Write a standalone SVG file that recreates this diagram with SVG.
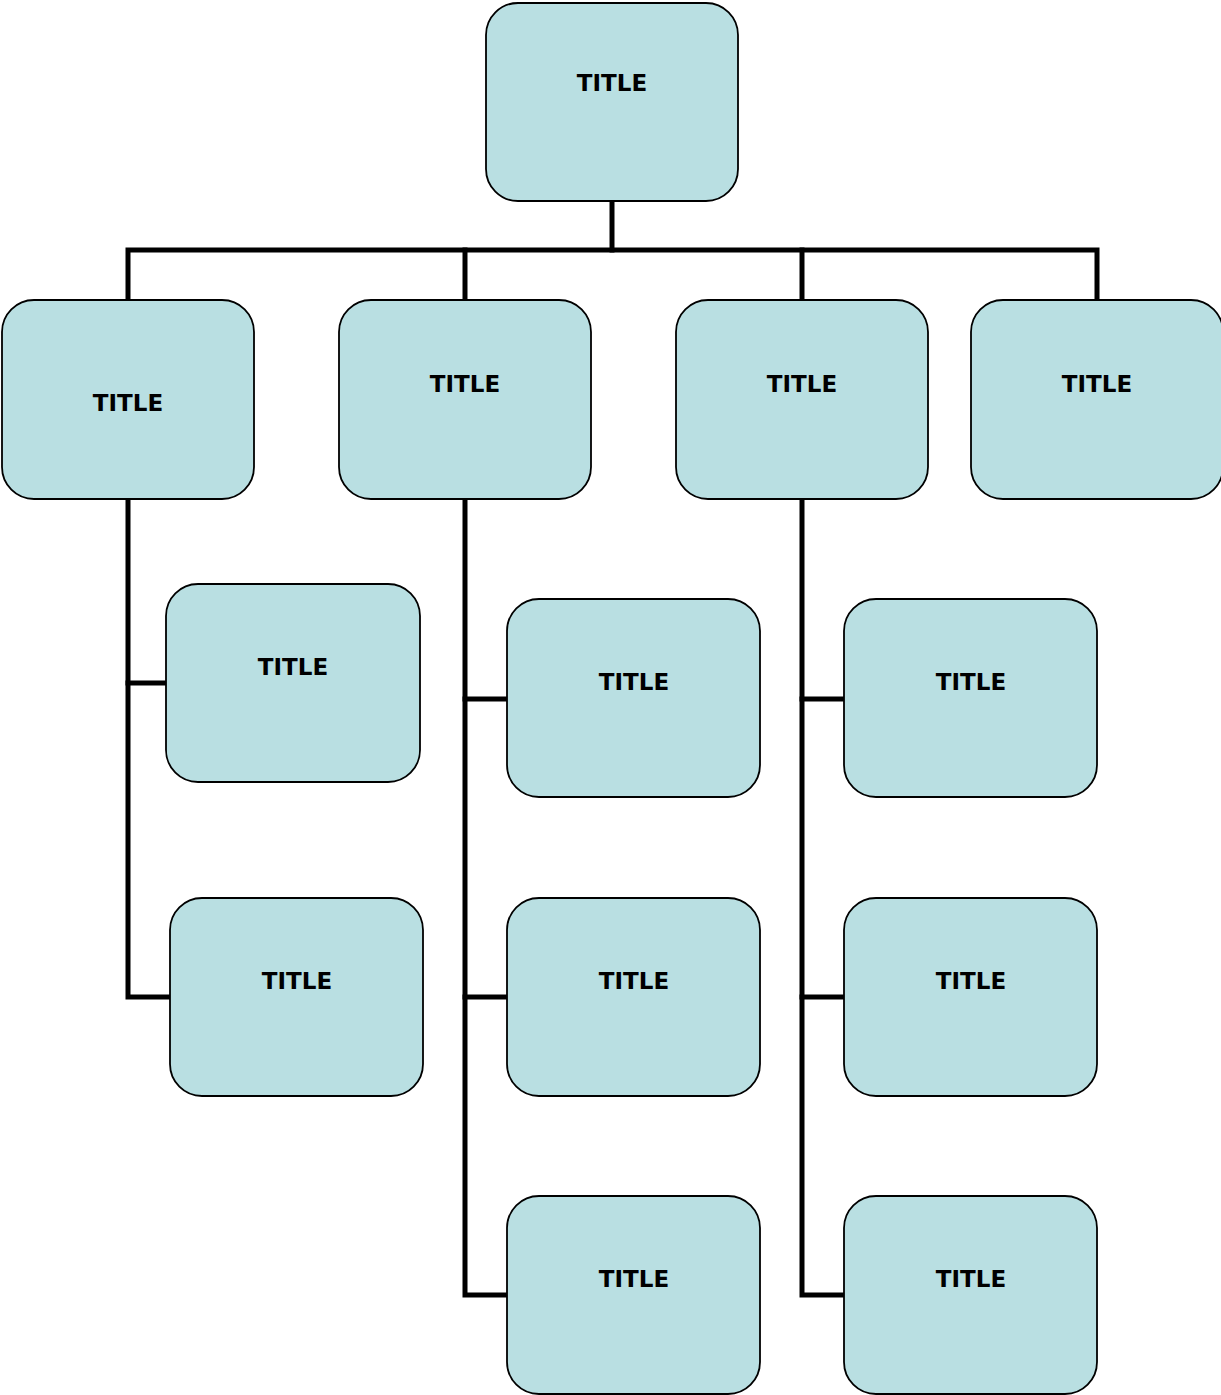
<svg xmlns="http://www.w3.org/2000/svg" width="1221" height="1395" viewBox="0 0 1221 1395">
<style>
.n{fill:#b9dfe2;stroke:#000;stroke-width:1.8}
.t{font-family:"DejaVu Sans",sans-serif;font-weight:bold;font-size:23px;fill:#000;text-anchor:middle}
.c{fill:none;stroke:#000;stroke-width:5;stroke-linecap:square;stroke-linejoin:miter}
</style>
<rect width="1221" height="1395" fill="#fff"/>
<g id="connectors">
<path class="c" d="M612,201 V250"/>
<path class="c" d="M128,300 V250 H1097 V300"/>
<path class="c" d="M465,250 V300"/>
<path class="c" d="M802,250 V300"/>
<path class="c" d="M128,499 V997 H170"/>
<path class="c" d="M128,683 H166"/>
<path class="c" d="M465,499 V1295 H507"/>
<path class="c" d="M465,699 H507"/>
<path class="c" d="M465,997 H507"/>
<path class="c" d="M802,499 V1295 H844"/>
<path class="c" d="M802,699 H844"/>
<path class="c" d="M802,997 H844"/>
</g>
<g id="root"><rect class="n" x="486" y="3" width="252" height="198" rx="32"/><text class="t" x="612" y="91">TITLE</text></g>
<g id="n1"><rect class="n" x="2" y="300" width="252" height="199" rx="32"/><text class="t" x="128" y="411">TITLE</text></g>
<g id="n2"><rect class="n" x="339" y="300" width="252" height="199" rx="32"/><text class="t" x="465" y="392">TITLE</text></g>
<g id="n3"><rect class="n" x="676" y="300" width="252" height="199" rx="32"/><text class="t" x="802" y="392">TITLE</text></g>
<g id="n4"><rect class="n" x="971" y="300" width="252" height="199" rx="32"/><text class="t" x="1097" y="392">TITLE</text></g>
<g id="a1"><rect class="n" x="166" y="584" width="254" height="198" rx="32"/><text class="t" x="293" y="675">TITLE</text></g>
<g id="a2"><rect class="n" x="170" y="898" width="253" height="198" rx="32"/><text class="t" x="297" y="989">TITLE</text></g>
<g id="b1"><rect class="n" x="507" y="599" width="253" height="198" rx="32"/><text class="t" x="634" y="690">TITLE</text></g>
<g id="b2"><rect class="n" x="507" y="898" width="253" height="198" rx="32"/><text class="t" x="634" y="989">TITLE</text></g>
<g id="b3"><rect class="n" x="507" y="1196" width="253" height="198" rx="32"/><text class="t" x="634" y="1287">TITLE</text></g>
<g id="c1"><rect class="n" x="844" y="599" width="253" height="198" rx="32"/><text class="t" x="971" y="690">TITLE</text></g>
<g id="c2"><rect class="n" x="844" y="898" width="253" height="198" rx="32"/><text class="t" x="971" y="989">TITLE</text></g>
<g id="c3"><rect class="n" x="844" y="1196" width="253" height="198" rx="32"/><text class="t" x="971" y="1287">TITLE</text></g>
</svg>
